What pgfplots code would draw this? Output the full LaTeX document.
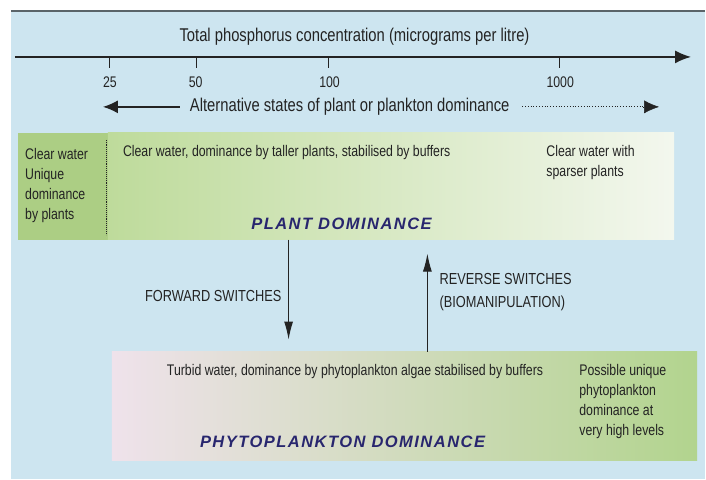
\documentclass[border=0pt]{standalone}
\usepackage{pgfplots}
\pgfplotsset{compat=1.18}
\usetikzlibrary{arrows.meta}
\usepackage{fontspec}
\setmainfont{Liberation Sans}[FakeStretch=0.8]
\newfontfamily\capsfont{Liberation Sans}[LetterSpace=9]
\definecolor{bgblue}{RGB}{205,229,240}
\definecolor{pgreen}{RGB}{172,206,132}
\definecolor{pgreenA}{RGB}{190,219,155}
\definecolor{pwhite}{RGB}{243,247,238}
\definecolor{phpink}{RGB}{239,226,235}
\definecolor{phmid}{RGB}{216,224,200}
\definecolor{phgreen}{RGB}{178,212,142}
\definecolor{navy}{RGB}{40,38,110}
\definecolor{txt}{RGB}{35,35,35}
\tikzset{
  tx/.style={text=txt, inner sep=0pt, font=\fontsize{15.4}{20}\selectfont},
  big/.style={text=txt, inner sep=0pt, font=\fontsize{18.5}{20}\selectfont},
  sw/.style={text=txt, inner sep=0pt, font=\fontsize{16}{23}\selectfont},
  capsty/.style={text=navy, inner sep=0pt, font=\capsfont\bfseries\itshape\fontsize{16.5}{19}\selectfont},
}
\begin{document}
\begin{tikzpicture}
\begin{axis}[
  width=706pt, height=480pt, scale only axis,
  xmin=0, xmax=706, ymin=0, ymax=480, y dir=reverse,
  hide axis, clip=false,
]
% background
\addplot[draw=none, fill=white] coordinates {(0,0)(706,0)(706,480)(0,480)} -- cycle;
\addplot[draw=none, fill=bgblue] coordinates {(11,11)(706,11)(706,480)(11,480)} -- cycle;
\addplot[draw={rgb,255:red,90;green,100;blue,105}, line width=2pt] coordinates {(11,11)(706,11)};
% boxes
\addplot[draw=none, fill=pgreen] coordinates {(18,133)(108,133)(108,240)(18,240)} -- cycle;
\addplot[draw=none, left color=pgreenA, right color=pwhite] coordinates {(108,133)(675,133)(675,240)(108,240)} -- cycle;
\addplot[draw=none, left color=phpink, middle color=phmid, right color=phgreen] coordinates {(112,352)(698,352)(698,461)(112,461)} -- cycle;
\addplot[densely dotted, line width=0.9pt, draw=txt] coordinates {(107,140)(107,235)};
% main axis
\addplot[line width=1.6pt, draw=txt, -{Latex[length=16pt,width=13pt]}] coordinates {(15,57)(692,57)};
\addplot[line width=1pt, draw=txt] coordinates {(110,57)(110,68)};
\addplot[line width=1pt, draw=txt] coordinates {(197,57)(197,68)};
\addplot[line width=1pt, draw=txt] coordinates {(329,57)(329,68)};
\addplot[line width=1pt, draw=txt] coordinates {(560,57)(560,68)};
\node[big, anchor=center] at (axis cs:355,37) {Total phosphorus concentration (micrograms per litre)};
\node[tx] at (axis cs:110,82) {25};
\node[tx] at (axis cs:196,82) {50};
\node[tx] at (axis cs:330,82) {100};
\node[tx] at (axis cs:561,82) {1000};
% second arrow
\addplot[line width=1.6pt, draw=txt, -{Latex[length=15pt,width=13pt]}] coordinates {(180,107)(103,107)};
\addplot[dotted, line width=0.8pt, draw=txt] coordinates {(523,107)(646,107)};
\addplot[draw=txt, line width=0.5pt, -{Latex[length=15pt,width=13pt]}] coordinates {(644,107)(660,107)};
\node[big, anchor=west] at (axis cs:190,107) {Alternative states of plant or plankton dominance};
% plant box text
\node[tx, anchor=north west, align=left] at (axis cs:25,148) {Clear water\\Unique\\dominance\\by plants};
\node[tx, anchor=north west] at (axis cs:123,145) {Clear water, dominance by taller plants, stabilised by buffers};
\node[tx, anchor=north west, align=left] at (axis cs:547,145) {Clear water with\\sparser plants};
\node[capsty, anchor=center] at (axis cs:342,224) {PLANT DOMINANCE};
% switches
\addplot[line width=1pt, draw=txt, -{Latex[length=18pt,width=9pt]}] coordinates {(289,240)(289,340)};
\addplot[line width=1pt, draw=txt, -{Latex[length=18pt,width=9pt]}] coordinates {(428,352)(428,254)};
\node[sw, anchor=east] at (axis cs:282,296) {FORWARD SWITCHES};
\node[sw, anchor=north west, align=left] at (axis cs:440,274) {REVERSE SWITCHES\\(BIOMANIPULATION)};
% phyto box text
\node[tx, anchor=north west] at (axis cs:167,365) {Turbid water, dominance by phytoplankton algae stabilised by buffers};
\node[tx, anchor=north west, align=left] at (axis cs:580,365) {Possible unique\\phytoplankton\\dominance at\\very high levels};
\node[capsty, anchor=center] at (axis cs:343,442) {PHYTOPLANKTON DOMINANCE};
\end{axis}
\end{tikzpicture}
\end{document}
